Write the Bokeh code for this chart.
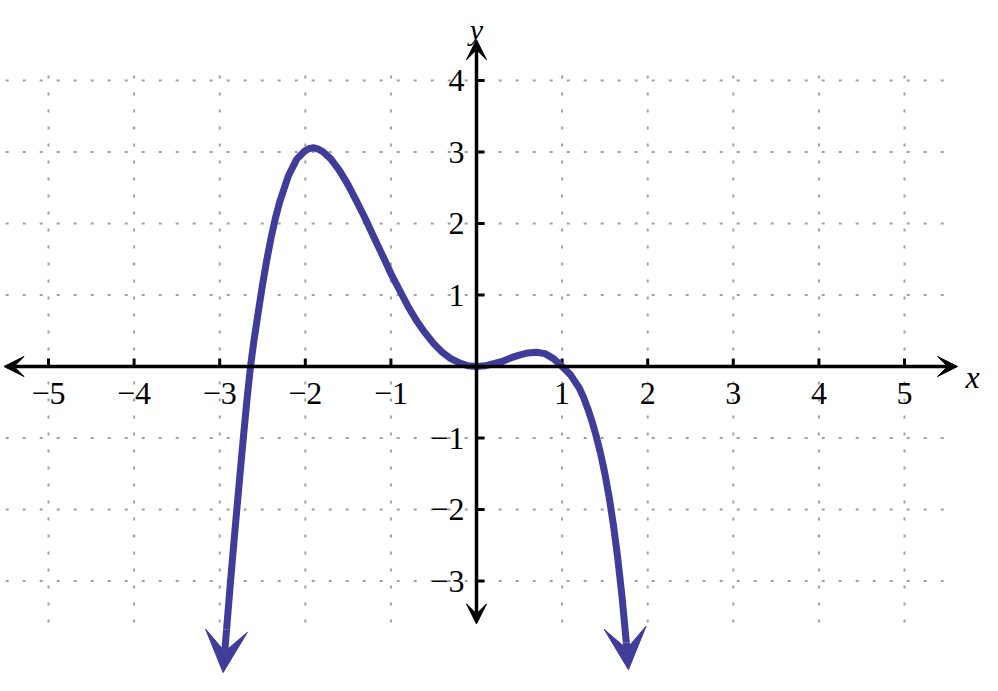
from bokeh.plotting import figure
from bokeh.models import Range1d, Arrow, VeeHead
from bokeh.core.properties import value
from bokeh.embed import file_html
from bokeh.resources import INLINE

# ---------------- data ----------------
curve_x = [-2.96, -2.92, -2.88, -2.84, -2.80, -2.76, -2.72, -2.68, -2.64, -2.60,
           -2.55, -2.50, -2.45, -2.40, -2.35, -2.30, -2.20, -2.10, -2.00, -1.95, -1.90,
           -1.85, -1.80, -1.70, -1.60, -1.50, -1.40, -1.30, -1.20, -1.10, -1.00,
           -0.90, -0.80, -0.70, -0.60, -0.50, -0.40, -0.30, -0.20, -0.10, 0.00,
           0.10, 0.20, 0.30, 0.40, 0.50, 0.60, 0.70, 0.80, 0.90, 1.00,
           1.10, 1.20, 1.25, 1.30, 1.35, 1.40, 1.45, 1.50, 1.55, 1.60, 1.65,
           1.70, 1.75, 1.775]
curve_y = [-4.28, -3.68, -3.10, -2.54, -2.00, -1.47, -0.95, -0.45, 0.00, 0.36,
           0.76, 1.14, 1.49, 1.80, 2.07, 2.30, 2.66, 2.90, 3.02, 3.05, 3.06,
           3.04, 3.01, 2.90, 2.74, 2.54, 2.31, 2.07, 1.81, 1.56, 1.30,
           1.07, 0.84, 0.64, 0.47, 0.32, 0.20, 0.11, 0.05, 0.01, 0.00,
           0.01, 0.04, 0.07, 0.12, 0.16, 0.19, 0.20, 0.18, 0.11, 0.00,
           -0.12, -0.30, -0.43, -0.59, -0.77, -0.98, -1.22, -1.50, -1.83, -2.22, -2.68,
           -3.22, -3.86, -4.24]

x_ticks = [-5, -4, -3, -2, -1, 1, 2, 3, 4, 5]
x_tick_labels = ["\u22125", "\u22124", "\u22123", "\u22122", "\u22121", "1", "2", "3", "4", "5"]
y_ticks = [-3, -2, -1, 1, 2, 3, 4]
y_tick_labels = ["\u22123", "\u22122", "\u22121", "1", "2", "3", "4"]

x_axis_extent = [-5.52, 5.62]
y_axis_extent = [-3.6, 4.57]
hgrid_extent = [-5.5, 5.5]
vgrid_extent = [-3.58, 4.12]

# ---------------- layout ----------------
W, H = 982, 675
PX_X, X0_PX = 85.6, 476.0
PX_Y, Y0_PX = 71.5, 366.0

CURVE = "#3f3d99"
GRID = "#a0a0a0"
FONT = "Liberation Serif"

p = figure(width=W, height=H, output_backend="svg", toolbar_location=None,
           x_range=Range1d(-X0_PX / PX_X, (W - X0_PX) / PX_X),
           y_range=Range1d(-(H - Y0_PX) / PX_Y, Y0_PX / PX_Y),
           min_border=0, x_axis_type=None, y_axis_type=None)
p.outline_line_color = None
p.grid.visible = False
p.background_fill_color = "white"

# dotted grid
p.segment(x0=x_ticks, y0=[vgrid_extent[0]] * len(x_ticks),
          x1=x_ticks, y1=[vgrid_extent[1]] * len(x_ticks),
          line_color=GRID, line_width=2, line_dash="3 14")
p.segment(x0=[hgrid_extent[0]] * len(y_ticks), y0=y_ticks,
          x1=[hgrid_extent[1]] * len(y_ticks), y1=y_ticks,
          line_color=GRID, line_width=2, line_dash="3 14")

# axes with arrows
axis_head = dict(size=20, fill_color="black", line_color="black", line_width=1)
p.add_layout(Arrow(start=VeeHead(**axis_head), end=VeeHead(**axis_head),
                   x_start=x_axis_extent[0], y_start=0, x_end=x_axis_extent[1], y_end=0,
                   line_color="black", line_width=3.5))
p.add_layout(Arrow(start=VeeHead(**axis_head), end=VeeHead(**axis_head),
                   x_start=0, y_start=y_axis_extent[0], x_end=0, y_end=y_axis_extent[1],
                   line_color="black", line_width=3.5))

# tick marks (x ticks point up, y ticks point right)
TICK = 8
p.segment(x0=x_ticks, y0=[0] * len(x_ticks), x1=x_ticks, y1=[TICK / PX_Y] * len(x_ticks),
          line_color="black", line_width=3)
p.segment(x0=[0] * len(y_ticks), y0=y_ticks, x1=[TICK / PX_X] * len(y_ticks), y1=y_ticks,
          line_color="black", line_width=3)

# tick labels
p.text(x=x_ticks, y=[0] * len(x_ticks), text=x_tick_labels, text_align="center",
       text_baseline="top", y_offset=16, text_font=value(FONT),
       text_font_size=value("32px"), text_color="black")
p.text(x=[0] * len(y_ticks), y=y_ticks, text=y_tick_labels, text_align="right",
       text_baseline="middle", x_offset=-12, text_font=value(FONT),
       text_font_size=value("32px"), text_color="black")

# axis names
p.text(x=[x_axis_extent[1]], y=[0], text=["x"], text_align="left", text_baseline="alphabetic",
       x_offset=8, y_offset=10, text_font=value(FONT), text_font_style="italic",
       text_font_size=value("32px"), text_color="black")
p.text(x=[0], y=[y_axis_extent[1]], text=["y"], text_align="center", text_baseline="alphabetic",
       y_offset=-10, text_font=value(FONT), text_font_style="italic",
       text_font_size=value("30px"), text_color="black")

# curve
p.line(curve_x[1:-1], curve_y[1:-1], line_color=CURVE, line_width=7, line_join="round")
curve_head = dict(size=42, fill_color=CURVE, line_color=CURVE, line_width=1)
p.add_layout(Arrow(end=VeeHead(**curve_head), x_start=curve_x[1], y_start=curve_y[1],
                   x_end=curve_x[0], y_end=curve_y[0], line_color=CURVE, line_width=7))
p.add_layout(Arrow(end=VeeHead(**curve_head), x_start=curve_x[-2], y_start=curve_y[-2],
                   x_end=curve_x[-1], y_end=curve_y[-1], line_color=CURVE, line_width=7))

open("out.html", "w").write(file_html(p, INLINE))
